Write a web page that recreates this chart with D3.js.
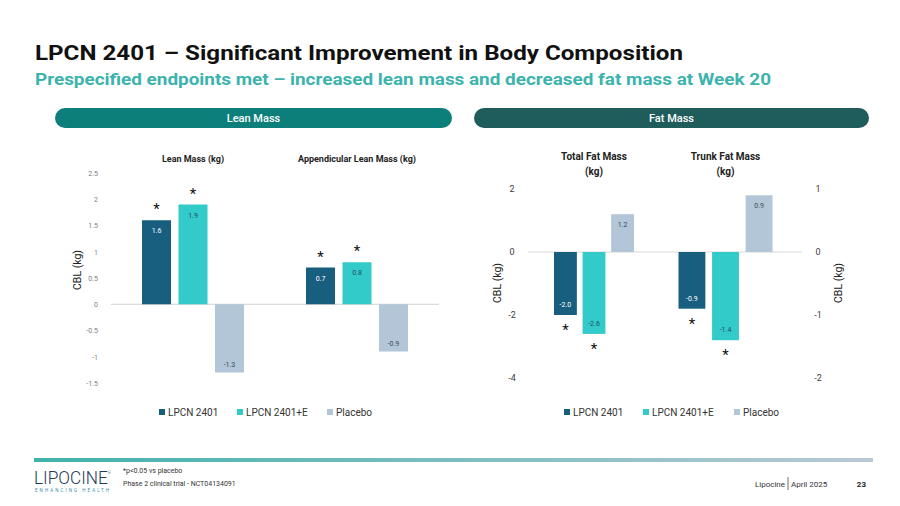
<html>
<head>
  <meta charset="utf-8">
  <title>LPCN 2401 body composition</title>
  <script src="https://d3js.org/d3.v7.min.js"></script>
  <style>
    body { margin: 0; background: #fff; }
    text { font-family: Roboto, "Noto Sans", sans-serif; }
  </style>
</head>
<body>
<script>
// data
var series = ["LPCN 2401", "LPCN 2401+E", "Placebo"];
var colors = ["#175e7f", "#33caca", "#b3c6d7"];
var labelColors = ["#ffffff", "#1f4f5f", "#3a4a5a"];

var leanCats = ["Lean Mass (kg)", "Appendicular Lean Mass (kg)"];
var leanVals = [[1.6, 1.9, -1.3], [0.7, 0.8, -0.9]];
var leanStars = [[1, 1, 0], [1, 1, 0]];
var leanTicks = [2.5, 2, 1.5, 1, 0.5, 0, -0.5, -1, -1.5];

var fatCats = ["Total Fat Mass|(kg)", "Trunk Fat Mass|(kg)"];
var fatVals = [[-2.0, -2.6, 1.2], [-0.9, -1.4, 0.9]];
var fatStars = [[1, 1, 0], [1, 1, 0]];
var fatLeftTicks = [2, 0, -2, -4];
var fatRightTicks = [1, 0, -1, -2];

var width = 900, height = 506;
var fmt = function(v) { return v.toFixed(1); };
var tickFmt = function(v) { return String(v); };

var svg = d3.select("body").append("svg")
  .attr("width", width)
  .attr("height", height);

// title + subtitle
svg.append("text")
  .attr("x", 35).attr("y", 60)
  .attr("font-size", 21).attr("font-weight", 700).attr("fill", "#111")
  .attr("textLength", 648).attr("lengthAdjust", "spacingAndGlyphs")
  .text("LPCN 2401 \u2013 Significant Improvement in Body Composition");

svg.append("text")
  .attr("x", 35).attr("y", 85)
  .attr("font-size", 16).attr("font-weight", 700).attr("fill", "#3cb3ad")
  .attr("textLength", 736).attr("lengthAdjust", "spacingAndGlyphs")
  .text("Prespecified endpoints met \u2013 increased lean mass and decreased fat mass at Week 20");

// section pills
var pills = [
  {x: 55, w: 397, label: "Lean Mass", fill: "#0d7f7b"},
  {x: 474, w: 395, label: "Fat Mass", fill: "#1f5d5d"}
];
pills.forEach(function(p) {
  svg.append("rect")
    .attr("x", p.x).attr("y", 108).attr("width", p.w).attr("height", 20)
    .attr("rx", 10).attr("fill", p.fill);
  svg.append("text")
    .attr("x", p.x + p.w / 2).attr("y", 122)
    .attr("text-anchor", "middle").attr("font-size", 11).attr("font-weight", 500)
    .attr("fill", "#fff").text(p.label);
});

// ---------- left chart: lean mass ----------
var yLean = d3.scaleLinear().domain([-1.5, 2.5]).range([383, 173]);
var xLean = d3.scaleBand().domain(leanCats).range([111, 439]);
var xLeanInner = d3.scaleBand().domain(series).range([-51, 51]).paddingInner(0.205);

var lean = svg.append("g");

lean.append("g")
  .attr("transform", "translate(101,0)")
  .call(d3.axisLeft(yLean).tickValues(leanTicks).tickSize(0).tickFormat(tickFmt))
  .call(function(g) { g.select(".domain").remove(); })
  .selectAll("text")
  .attr("font-size", 7).attr("fill", "#808080");

lean.append("line")
  .attr("x1", 111).attr("x2", 439)
  .attr("y1", yLean(0)).attr("y2", yLean(0))
  .attr("stroke", "#d0d0d0").attr("stroke-width", 1);

lean.append("text")
  .attr("transform", "translate(81," + 270 + ") rotate(-90)")
  .attr("text-anchor", "middle").attr("font-size", 10.5).attr("fill", "#222")
  .text("CBL (kg)");

leanCats.forEach(function(c, ci) {
  var cx = xLean(c) + xLean.bandwidth() / 2;
  lean.append("text")
    .attr("x", cx).attr("y", 162)
    .attr("text-anchor", "middle").attr("font-size", 9).attr("font-weight", 700)
    .attr("fill", "#222").text(c);

  series.forEach(function(s, si) {
    var v = leanVals[ci][si];
    var bx = cx + xLeanInner(s);
    var bw = xLeanInner.bandwidth();
    var y0 = yLean(Math.max(0, v)), y1 = yLean(Math.min(0, v));
    lean.append("rect")
      .attr("x", bx).attr("y", y0).attr("width", bw).attr("height", y1 - y0)
      .attr("fill", colors[si]);
    lean.append("text")
      .attr("x", bx + bw / 2).attr("y", v >= 0 ? y0 + 13 : y1 - 6)
      .attr("text-anchor", "middle").attr("font-size", 7)
      .attr("fill", labelColors[si]).text(fmt(v));
    if (leanStars[ci][si]) {
      lean.append("text")
        .attr("x", bx + bw / 2).attr("y", (v >= 0 ? y0 - 6 : y1 + 19))
        .attr("text-anchor", "middle").attr("font-size", 15)
        .attr("fill", "#111").text("*");
    }
  });
});

// legend builder
function legend(g, xs, y) {
  series.forEach(function(s, i) {
    g.append("rect").attr("x", xs[i]).attr("y", y - 7).attr("width", 6).attr("height", 6)
      .attr("fill", colors[i]);
    g.append("text").attr("x", xs[i] + 9).attr("y", y).attr("font-size", 10)
      .attr("fill", "#333").text(s);
  });
}
legend(lean, [159, 237, 327], 416);

// ---------- right chart: fat mass ----------
var yFatL = d3.scaleLinear().domain([-4, 2]).range([378, 189]);
var yFatR = d3.scaleLinear().domain([-2, 1]).range([378, 189]);
var xFat = d3.scaleBand().domain(fatCats).range([528.25, 791.25]);
var fatInner = [
  d3.scaleBand().domain(series).range([-40, 40]).paddingInner(0.2),
  d3.scaleBand().domain(series).range([-47, 47]).paddingInner(0.2)
];
var fatY = [yFatL, yFatR];

var fat = svg.append("g");

fat.append("g")
  .attr("transform", "translate(518,0)")
  .call(d3.axisLeft(yFatL).tickValues(fatLeftTicks).tickSize(0).tickFormat(tickFmt))
  .call(function(g) { g.select(".domain").remove(); })
  .selectAll("text")
  .attr("font-size", 9).attr("fill", "#404040").attr("text-anchor", "middle").attr("dx", -3);

fat.append("g")
  .attr("transform", "translate(812,0)")
  .call(d3.axisRight(yFatR).tickValues(fatRightTicks).tickSize(0).tickFormat(tickFmt))
  .call(function(g) { g.select(".domain").remove(); })
  .selectAll("text")
  .attr("font-size", 9).attr("fill", "#404040").attr("text-anchor", "middle").attr("dx", 3);

fat.append("line")
  .attr("x1", 528).attr("x2", 802)
  .attr("y1", yFatL(0)).attr("y2", yFatL(0))
  .attr("stroke", "#d9d9d9").attr("stroke-width", 1);

fat.append("text")
  .attr("transform", "translate(501,283) rotate(-90)")
  .attr("text-anchor", "middle").attr("font-size", 10.5).attr("fill", "#222")
  .text("CBL (kg)");
fat.append("text")
  .attr("transform", "translate(842,283) rotate(-90)")
  .attr("text-anchor", "middle").attr("font-size", 10.5).attr("fill", "#222")
  .text("CBL (kg)");

fatCats.forEach(function(c, ci) {
  var cx = xFat(c) + xFat.bandwidth() / 2;
  var lines = c.split("|");
  lines.forEach(function(l, li) {
    fat.append("text")
      .attr("x", cx).attr("y", 160 + li * 15)
      .attr("text-anchor", "middle").attr("font-size", 10).attr("font-weight", 700)
      .attr("fill", "#222").text(l);
  });
  var inner = fatInner[ci], y = fatY[ci];
  series.forEach(function(s, si) {
    var v = fatVals[ci][si];
    var bx = cx + inner(s);
    var bw = inner.bandwidth();
    var y0 = y(Math.max(0, v)), y1 = y(Math.min(0, v));
    fat.append("rect")
      .attr("x", bx).attr("y", y0).attr("width", bw).attr("height", y1 - y0)
      .attr("fill", colors[si]);
    fat.append("text")
      .attr("x", bx + bw / 2).attr("y", v >= 0 ? y0 + 13 : y1 - 8)
      .attr("text-anchor", "middle").attr("font-size", 7)
      .attr("fill", labelColors[si]).text(fmt(v));
    if (fatStars[ci][si]) {
      fat.append("text")
        .attr("x", bx + bw / 2).attr("y", v >= 0 ? y0 - 6 : y1 + 20)
        .attr("text-anchor", "middle").attr("font-size", 15)
        .attr("fill", "#111").text("*");
    }
  });
});

legend(fat, [564, 643, 734], 416);

// ---------- footer ----------
var grad = svg.append("defs").append("linearGradient").attr("id", "footgrad");
grad.append("stop").attr("offset", "0%").attr("stop-color", "#3fb2ac");
grad.append("stop").attr("offset", "100%").attr("stop-color", "#b9c9d5");
svg.append("rect").attr("x", 34).attr("y", 458).attr("width", 839).attr("height", 4)
  .attr("fill", "url(#footgrad)");

// logo: smaller font stretched vertically so its box stays clear of the footnote
var logo = svg.append("text")
  .attr("transform", "translate(34,484) scale(1,1.25)")
  .attr("font-size", 15).attr("font-weight", 300).attr("fill", "#1d3b5b")
  .attr("textLength", 77).attr("lengthAdjust", "spacingAndGlyphs");
logo.append("tspan").text("LIPOCINE");
logo.append("tspan").attr("font-size", 3.5).attr("dy", -8).text("\u00ae");
svg.append("text")
  .attr("x", 35).attr("y", 492)
  .attr("font-size", 4.5).attr("fill", "#3a8cb0")
  .attr("textLength", 74).attr("lengthAdjust", "spacing")
  .text("ENHANCING HEALTH");

svg.append("text").attr("x", 123).attr("y", 473)
  .attr("font-size", 7).attr("fill", "#333").text("*p<0.05 vs placebo");
svg.append("text").attr("x", 123).attr("y", 486)
  .attr("font-size", 7).attr("fill", "#333").text("Phase 2 clinical trial - NCT04134091");

svg.append("text").attr("x", 785).attr("y", 487).attr("text-anchor", "end")
  .attr("font-size", 8).attr("fill", "#333").text("Lipocine");
svg.append("line").attr("x1", 788).attr("x2", 788).attr("y1", 477).attr("y2", 490)
  .attr("stroke", "#333").attr("stroke-width", 0.7);
svg.append("text").attr("x", 791).attr("y", 487)
  .attr("font-size", 8).attr("fill", "#333").text("April 2025");
svg.append("text").attr("x", 866).attr("y", 487).attr("text-anchor", "end")
  .attr("font-size", 8).attr("font-weight", 700).attr("fill", "#222").text("23");
</script>
</body>
</html>
